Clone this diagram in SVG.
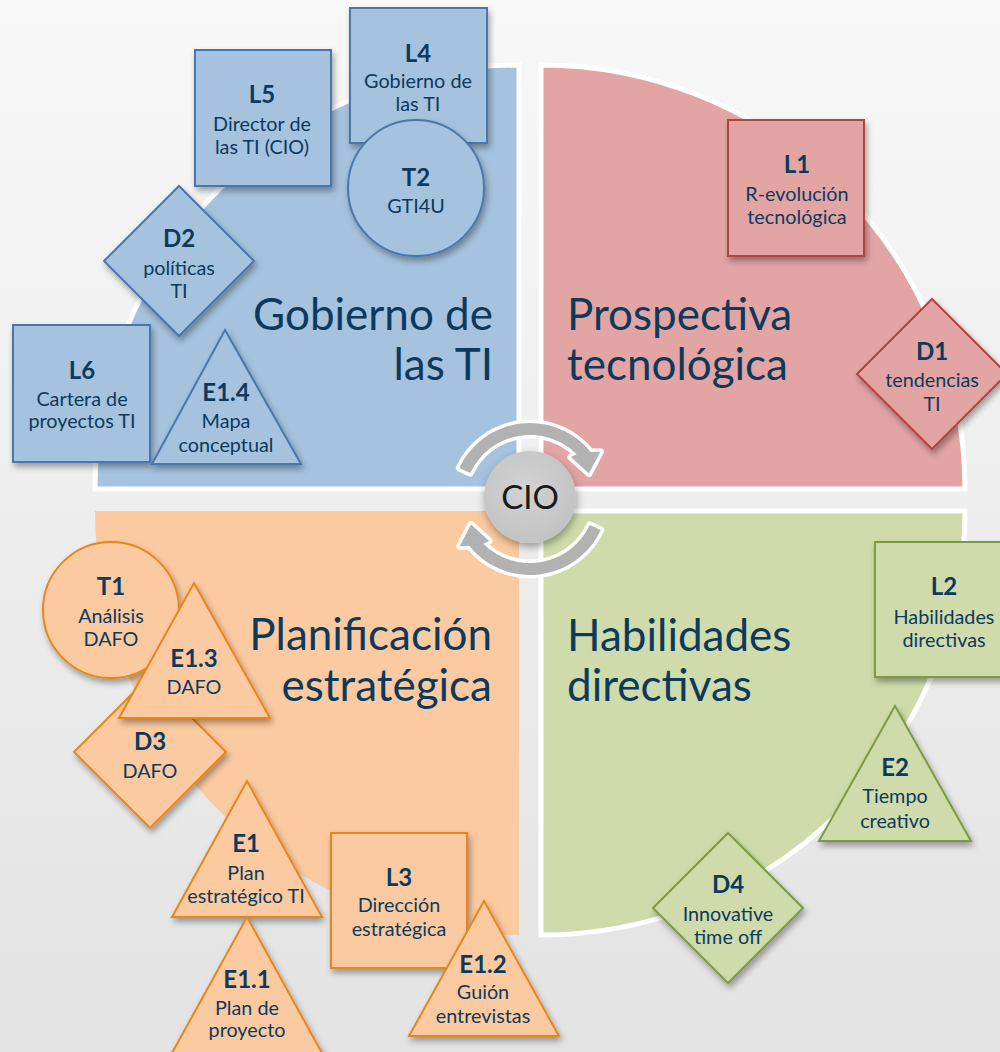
<svg xmlns="http://www.w3.org/2000/svg" width="1000" height="1052" viewBox="0 0 1000 1052">
<defs>
<linearGradient id="bg" x1="0" y1="0" x2="0" y2="1">
<stop offset="0" stop-color="#f8f8f8"/>
<stop offset="1" stop-color="#e3e3e3"/>
</linearGradient>
<radialGradient id="cio" cx="0.45" cy="0.4" r="0.65">
<stop offset="0" stop-color="#d2d2d2"/>
<stop offset="1" stop-color="#c2c2c2"/>
</radialGradient>
<filter id="sh" x="-20%" y="-20%" width="150%" height="150%">
<feDropShadow dx="2" dy="4" stdDeviation="3" flood-color="#000" flood-opacity="0.35"/>
</filter>
<filter id="shc" x="-30%" y="-30%" width="160%" height="160%">
<feDropShadow dx="1" dy="4" stdDeviation="4" flood-color="#000" flood-opacity="0.35"/>
</filter>
</defs>
<style>
.q { stroke: #ffffff; stroke-width: 5; }
.b { fill: #a5c2de; stroke: #4a77ab; stroke-width: 2; filter: url(#sh); }
.r { fill: #e2a5a4; stroke: #b1443f; stroke-width: 2; filter: url(#sh); }
.g { fill: #cfdbab; stroke: #7c9b40; stroke-width: 2; filter: url(#sh); }
.o { fill: #fbcaa0; stroke: #e8861d; stroke-width: 2; filter: url(#sh); }
text { font-family: Lato, "Open Sans", sans-serif; fill: #0d3a5c; text-anchor: middle; }
.id { font-size: 24px; font-weight: bold; }
.tx { font-size: 19.8px; }
.title { font-size: 44px; }
.st { text-anchor: start; }
.en { text-anchor: end; }
.arr { fill: #b2b2b2; stroke: #ffffff; stroke-width: 7; paint-order: stroke; stroke-linejoin: round; }
</style>
<rect x="0" y="0" width="1000" height="1052" fill="url(#bg)"/>

<g id="quadrants">
<path class="q" d="M519,489 L519,65 A424,424 0 0 0 95,489 Z" fill="#a5c2de"/>
<path class="q" d="M541,489 L541,65 A424,424 0 0 1 965,489 Z" fill="#e2a5a4"/>
<path class="q" d="M541,511 L965,511 A424,424 0 0 1 541,935 Z" fill="#cfdbab"/>
<path d="M519,511 L519,935 A424,424 0 0 1 95,511 Z" fill="#fbcaa0"/>
</g>

<g id="titles">
<text class="title en" x="493" y="330">Gobierno de</text>
<text class="title en" x="493" y="380">las TI</text>
<text class="title st" x="567" y="330">Prospectiva</text>
<text class="title st" x="567" y="380">tecnológica</text>
<text class="title en" x="492" y="650">Planificación</text>
<text class="title en" x="492" y="701">estratégica</text>
<text class="title st" x="567" y="651">Habilidades</text>
<text class="title st" x="567" y="701">directivas</text>
</g>

<g id="connectors">
<path class="arr" d="M459.3,468.0 A78,78 0 0 1 590.6,451.9 L600.4,451.7 L588.9,473.5 L570.9,457.1 L576.7,454.3 A66,66 0 0 0 470.2,473.1 Z"/>
<path class="arr" d="M600.7,530.0 A78,78 0 0 1 469.4,546.1 L459.6,546.3 L471.1,524.5 L489.1,540.9 L483.3,543.7 A66,66 0 0 0 589.8,524.9 Z"/>
</g>

<g id="cio">
<circle cx="530" cy="497" r="46" fill="url(#cio)" filter="url(#shc)"/>
<text x="530" y="509" style="font-size:33px; fill:#1a1a1a;">CIO</text>
</g>

<g id="L5"><rect class="b" x="195" y="50" width="136" height="136"/>
<text class="id" x="262" y="103">L5</text><text class="tx" x="262" y="131">Director de</text><text class="tx" x="262" y="154">las TI (CIO)</text></g>
<g id="L4"><rect class="b" x="350" y="8" width="137" height="135"/>
<text class="id" x="418" y="62">L4</text><text class="tx" x="418" y="88">Gobierno de</text><text class="tx" x="418" y="111">las TI</text></g>
<g id="T2"><circle class="b" cx="416" cy="188" r="68"/>
<text class="id" x="416" y="186">T2</text><text class="tx" x="416" y="213">GTI4U</text></g>
<g id="D2"><polygon class="b" points="179,186 254,261 179,336 104,261"/>
<text class="id" x="179" y="247">D2</text><text class="tx" x="179" y="275">políticas</text><text class="tx" x="179" y="298">TI</text></g>
<g id="L6"><rect class="b" x="13" y="325" width="137" height="137"/>
<text class="id" x="82" y="379">L6</text><text class="tx" x="82" y="406">Cartera de</text><text class="tx" x="82" y="428">proyectos TI</text></g>
<g id="E1.4"><polygon class="b" points="225,330 301,464 152,464"/>
<text class="id" x="226" y="401">E1.4</text><text class="tx" x="226" y="428">Mapa</text><text class="tx" x="226" y="452">conceptual</text></g>

<g id="L1"><rect class="r" x="728" y="120" width="136" height="136"/>
<text class="id" x="797" y="173">L1</text><text class="tx" x="797" y="201">R-evolución</text><text class="tx" x="797" y="224">tecnológica</text></g>
<g id="D1"><polygon class="r" points="932,299 1007,374 932,449 857,374"/>
<text class="id" x="932" y="360">D1</text><text class="tx" x="932" y="387">tendencias</text><text class="tx" x="932" y="411">TI</text></g>

<g id="L2"><rect class="g" x="875" y="542" width="136" height="135"/>
<text class="id" x="944" y="595">L2</text><text class="tx" x="944" y="624">Habilidades</text><text class="tx" x="944" y="647">directivas</text></g>
<g id="E2"><polygon class="g" points="895,706 971,841 819,841"/>
<text class="id" x="895" y="776">E2</text><text class="tx" x="895" y="803">Tiempo</text><text class="tx" x="895" y="828">creativo</text></g>
<g id="D4"><polygon class="g" points="728,833 803,908 728,983 653,908"/>
<text class="id" x="728" y="893">D4</text><text class="tx" x="728" y="921">Innovative</text><text class="tx" x="728" y="944">time off</text></g>

<g id="D3"><polygon class="o" points="150,676 226,752 150,828 74,752"/>
<text class="id" x="150" y="750">D3</text><text class="tx" x="150" y="778">DAFO</text></g>
<g id="T1"><circle class="o" cx="111" cy="610" r="68"/>
<text class="id" x="111" y="595">T1</text><text class="tx" x="111" y="623">Análisis</text><text class="tx" x="111" y="646">DAFO</text></g>
<g id="E1.3"><polygon class="o" points="194,583 270,718 119,718"/>
<text class="id" x="194" y="667">E1.3</text><text class="tx" x="194" y="694">DAFO</text></g>
<g id="E1"><polygon class="o" points="247,781 322,917 172,917"/>
<text class="id" x="246" y="852">E1</text><text class="tx" x="246" y="880">Plan</text><text class="tx" x="246" y="903">estratégico TI</text></g>
<g id="E1.1"><polygon class="o" points="247,917 322,1053 172,1053"/>
<text class="id" x="247" y="988">E1.1</text><text class="tx" x="247" y="1015">Plan de</text><text class="tx" x="247" y="1037">proyecto</text></g>
<g id="L3"><rect class="o" x="331" y="833" width="136" height="135"/>
<text class="id" x="399" y="886">L3</text><text class="tx" x="399" y="912">Dirección</text><text class="tx" x="399" y="936">estratégica</text></g>
<g id="E1.2"><polygon class="o" points="484,901 559,1036 409,1036"/>
<text class="id" x="483" y="973">E1.2</text><text class="tx" x="483" y="999">Guión</text><text class="tx" x="483" y="1023">entrevistas</text></g>
</svg>
